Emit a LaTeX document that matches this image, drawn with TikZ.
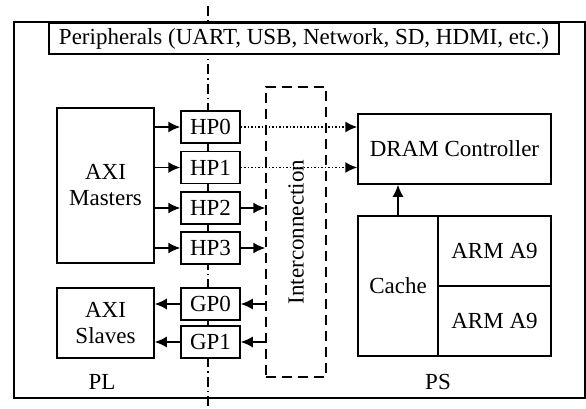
\documentclass[tikz,border=0pt]{standalone}
\usepackage{fontspec}
\setmainfont{Liberation Serif}
\usetikzlibrary{arrows.meta, positioning}
\tikzset{
  blk/.style={draw, fill=white, line width=1.5pt, inner sep=0pt, align=center},
  port/.style={blk, minimum width=59pt, minimum height=32pt},
  conn/.style={line width=1.5pt, -{Latex[length=12pt,width=11pt]}},
}

\begin{document}
\begin{tikzpicture}[x=1pt, y=-1pt, font=\fontsize{23}{26}\selectfont]
    \useasboundingbox (0,0) rectangle (586,409);
    % confine PL / PS
    \coordinate (plps top) at (208,6);
    \coordinate (plps bot) at (208,409);
    \draw[line width=1.2pt, dash pattern=on 10pt off 4pt on 1.5pt off 4pt] (plps top) -- (plps bot);
    % chip
    \draw[line width=1.5pt] (14,22) rectangle (585,398);
    \node[blk, minimum width=510pt, minimum height=31pt] (periph) at (304,38.5) {Peripherals (UART, USB, Network, SD, HDMI, etc.)};
    % lato PL
    \node[blk, minimum width=97pt, minimum height=155pt] (masters) at (105.5,185.5) {AXI\\Masters};
    \node[blk, minimum width=97pt, minimum height=70pt] (slaves) at (105.5,323) {AXI\\Slaves};
    \node[port] (hp0) at (210.5,127) {HP0};
    \node[port] (hp1) at (210.5,167.5) {HP1};
    \node[port] (hp2) at (210.5,208) {HP2};
    \node[port] (hp3) at (210.5,248) {HP3};
    \node[port] (gp0) at (210.5,304) {GP0};
    \node[port] (gp1) at (210.5,342) {GP1};
    \node[draw, line width=1.5pt, dash pattern=on 10pt off 6pt, minimum width=60pt, minimum height=290pt] (inter) at (296,232) {};
    \node[rotate=90] at (inter.center) {Interconnection};
    % lato PS
    \node[blk, minimum width=193pt, minimum height=70pt] (dram) at (454.5,149) {DRAM Controller};
    \node[blk, minimum width=80pt, minimum height=140pt] (cache) at (398,286) {Cache};
    \node[blk, minimum width=113pt, minimum height=70pt] (arm0) at (494.5,251) {ARM A9};
    \node[blk, minimum width=113pt, minimum height=70pt] (arm1) at (494.5,321) {ARM A9};
    \node (pl) at (102,382) {PL};
    \node (ps) at (438,382) {PS};
    % collegamenti
    \foreach \p in {hp0,hp1,hp2,hp3}
        \draw[conn] (masters.east |- \p) -- (\p.west);
    \foreach \p in {gp0,gp1}
        \draw[conn] (\p.west) -- (slaves.east |- \p);
    \foreach \p in {hp0,hp1}
        \draw[conn, dotted] (\p.east) -- (dram.west |- \p);
    \foreach \p in {hp2,hp3}
        \draw[conn] (\p.east) -- (inter.west |- \p);
    \foreach \p in {gp0,gp1}
        \draw[conn] (inter.west |- \p) -- (\p.east);
    \draw[conn] (cache.north) -- (dram.south -| cache.north);
\end{tikzpicture}
\end{document}
